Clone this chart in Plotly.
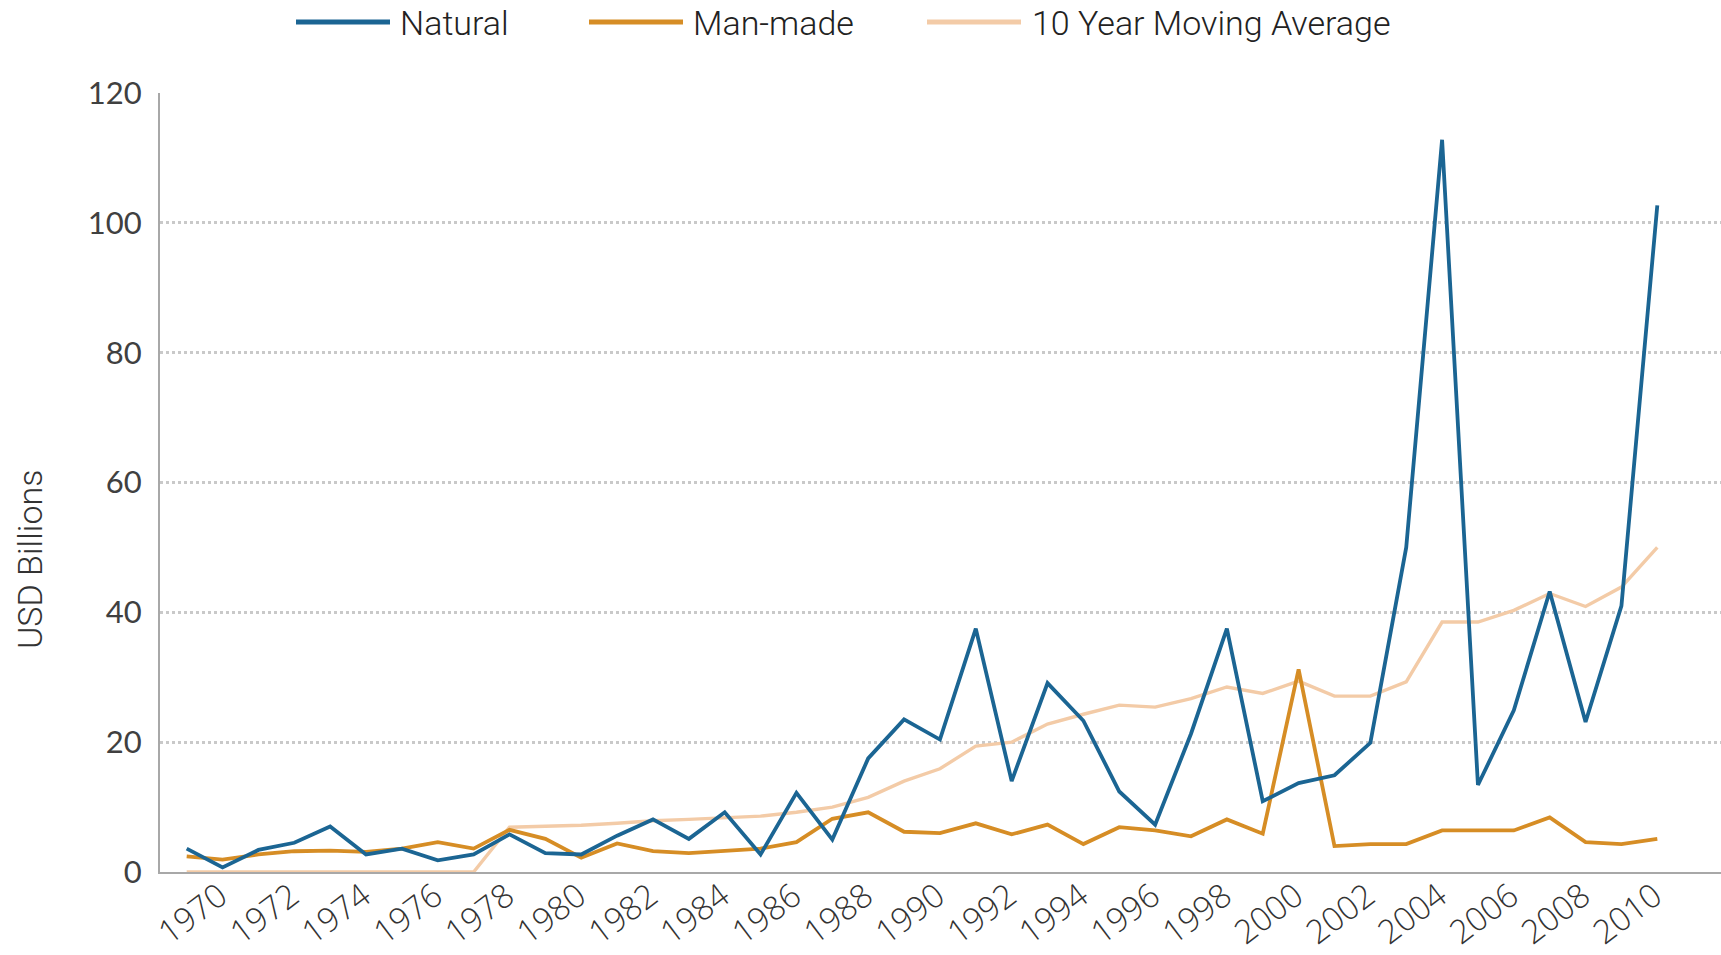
import plotly.graph_objects as go

years = list(range(1970, 2012))

natural = [3.6, 0.7, 3.4, 4.5, 7.0, 2.7, 3.6, 1.8, 2.7, 5.8,
           2.9, 2.7, 5.6, 8.1, 5.1, 9.2, 2.7, 12.2, 5.0, 17.5,
           23.5, 20.4, 37.5, 14.0, 29.1, 23.3, 12.4, 7.3, 21.3, 37.5,
           10.9, 13.7, 14.9, 19.9, 50.0, 112.8, 13.4, 24.9, 43.2, 23.1,
           41.0, 102.7]

manmade = [2.4, 1.9, 2.7, 3.2, 3.3, 3.1, 3.6, 4.6, 3.6, 6.5,
           5.1, 2.2, 4.4, 3.2, 2.9, 3.3, 3.6, 4.6, 8.2, 9.2,
           6.2, 6.0, 7.5, 5.8, 7.3, 4.3, 6.9, 6.4, 5.5, 8.1,
           5.9, 31.2, 4.0, 4.3, 4.3, 6.4, 6.4, 6.4, 8.4, 4.6,
           4.3, 5.1]

moving_avg = [0, 0, 0, 0, 0, 0, 0, 0, 0, 6.9,
              7.0, 7.2, 7.5, 7.9, 8.1, 8.4, 8.6, 9.2, 10.0, 11.5,
              14.0, 15.9, 19.4, 20.0, 22.8, 24.3, 25.7, 25.4, 26.7, 28.5,
              27.5, 29.4, 27.1, 27.1, 29.3, 38.5, 38.5, 40.3, 42.9, 40.9,
              43.9, 50.0]

tick_years = years[::2][:21]
tick_labels = [str(y) for y in tick_years]
y_ticks = [0, 20, 40, 60, 80, 100, 120]

series_names = ["Natural", "Man-made", "10 Year Moving Average"]
colors = ["#1b6593", "#d68d25", "#f3cba7"]

fig = go.Figure()
fig.add_trace(go.Scatter(x=years, y=moving_avg, mode="lines", name=series_names[2],
                         line=dict(color=colors[2], width=3.4), showlegend=False))
fig.add_trace(go.Scatter(x=years, y=manmade, mode="lines", name=series_names[1],
                         line=dict(color=colors[1], width=3.8), showlegend=False))
fig.add_trace(go.Scatter(x=years, y=natural, mode="lines", name=series_names[0],
                         line=dict(color=colors[0], width=3.8), showlegend=False))

# manual legend (line samples + labels)
W, H = 1721, 955
PL, PT, PB = 160, 93, 872
legend_items = [(296, 390, 398), (589, 683, 691), (927, 1021, 1030)]
for (x0, x1, tx), name, col in zip(legend_items, series_names, colors):
    yl = 1 + (PT - 22) / (PB - PT)
    fig.add_shape(type="line", xref="paper", yref="paper",
                  x0=(x0 - PL) / (W - PL), x1=(x1 - PL) / (W - PL),
                  y0=yl, y1=yl, line=dict(color=col, width=5))
    fig.add_annotation(xref="paper", yref="paper",
                       x=(tx - PL) / (W - PL), y=1 + (PT - 23) / (PB - PT),
                       text=name, showarrow=False, xanchor="left", yanchor="middle",
                       font=dict(family="Roboto", size=34, color="#222222", weight=300))

fig.add_annotation(xref="paper", yref="paper", x=(30 - PL) / (W - PL),
                   y=(PB - 560) / (PB - PT), text="USD Billions", textangle=-90,
                   showarrow=False, xanchor="center", yanchor="middle",
                   font=dict(family="Roboto", size=34, color="#333333", weight=300))

fig.update_layout(
    width=W, height=H,
    margin=dict(l=PL, r=0, t=PT, b=H - PB, autoexpand=False),
    paper_bgcolor="white", plot_bgcolor="white",
    showlegend=False,
)
fig.update_xaxes(
    range=[1969.256, 2012.776], automargin=False,
    tickmode="array", tickvals=tick_years, ticktext=tick_labels,
    tickangle=-37, ticklabelshift=33, ticklabelstandoff=-10,
    tickfont=dict(family="Open Sans", size=33, color="#333333", weight=300),
    showgrid=False, zeroline=False,
    showline=True, linecolor="#a8a8a8", linewidth=2, ticks="",
)
fig.update_yaxes(
    range=[0, 120], tickmode="array", tickvals=y_ticks, automargin=False,
    tickfont=dict(family="Lato", size=31, color="#404040"),
    showgrid=True, gridcolor="#c9c9c9", gridwidth=2.5, griddash="dot",
    zeroline=False, showline=True, linecolor="#a8a8a8", linewidth=2,
    ticks="", ticklabelstandoff=10,
)

fig.write_html("out.html", post_script="document.body.style.margin='0';",
               config={"displayModeBar": False})
